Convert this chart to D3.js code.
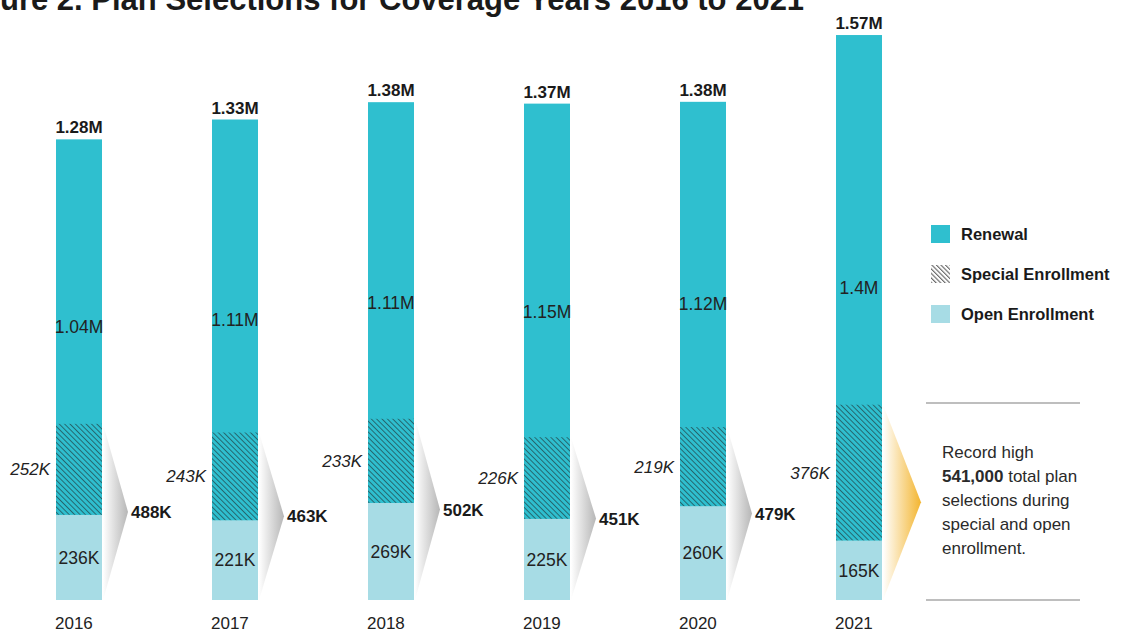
<!DOCTYPE html>
<html>
<head>
<meta charset="utf-8">
<script src="https://cdn.jsdelivr.net/npm/d3@7/dist/d3.min.js"></script>
<style>
  html, body { margin: 0; padding: 0; background: #fff; }
  svg { display: block; }
  text { font-family: "Liberation Sans", Arial, Helvetica, sans-serif; fill: #1a1a1a; }
</style>
</head>
<body>
<script>
// Plan selections by coverage year
const years        = ["2016", "2017", "2018", "2019", "2020", "2021"];
const totals       = [1.28, 1.33, 1.38, 1.37, 1.38, 1.57];   // millions
const renewal      = [1.04, 1.11, 1.11, 1.15, 1.12, 1.4];    // millions
const special      = [252, 243, 233, 226, 219, 376];         // thousands
const openEnroll   = [236, 221, 269, 225, 260, 165];         // thousands
const enrollTotals = [488, 463, 502, 451, 479, 541];         // thousands, special + open
const legendItems  = ["Renewal", "Special Enrollment", "Open Enrollment"];

const W = 1125, H = 633;
const C_RENEW = "#2fbfcf", C_OPEN = "#a7dce5", C_HATCH = "#24646b";

const svg = d3.select("body").append("svg").attr("width", W).attr("height", H);
const defs = svg.append("defs");

// diagonal hatch on teal for special enrollment
const hp = defs.append("pattern").attr("id", "hatch").attr("patternUnits", "userSpaceOnUse")
  .attr("width", 3.8).attr("height", 3.8).attr("patternTransform", "rotate(-45)");
hp.append("rect").attr("width", 3.8).attr("height", 3.8).attr("fill", C_RENEW);
hp.append("line").attr("x1", 0.5).attr("y1", 0).attr("x2", 0.5).attr("y2", 3.8)
  .attr("stroke", C_HATCH).attr("stroke-width", 0.95);

// hatch without fill for the legend swatch
const hl = defs.append("pattern").attr("id", "hatchLegend").attr("patternUnits", "userSpaceOnUse")
  .attr("width", 3.2).attr("height", 3.2).attr("patternTransform", "rotate(-45)");
hl.append("rect").attr("width", 3.2).attr("height", 3.2).attr("fill", "#fff");
hl.append("line").attr("x1", 0.6).attr("y1", 0).attr("x2", 0.6).attr("y2", 3.2)
  .attr("stroke", "#555").attr("stroke-width", 1);

// arrow gradients
const gGrey = defs.append("linearGradient").attr("id", "arrowGrey").attr("x1", "0").attr("x2", "1").attr("y1", "0").attr("y2", "0");
gGrey.append("stop").attr("offset", "0%").attr("stop-color", "#ffffff");
gGrey.append("stop").attr("offset", "100%").attr("stop-color", "#b6b6b6");
const gGold = defs.append("linearGradient").attr("id", "arrowGold").attr("x1", "0").attr("x2", "1").attr("y1", "0").attr("y2", "0");
gGold.append("stop").attr("offset", "0%").attr("stop-color", "#ffffff");
gGold.append("stop").attr("offset", "100%").attr("stop-color", "#f3b530");

// scales
const x = d3.scaleBand().domain(years).range([56, 882]).paddingInner(110 / 156).paddingOuter(0);
const y = d3.scaleLinear().domain([0, 1.6]).range([600, 600 - 1.6 * 361]);
const bw = x.bandwidth();

const rows = years.map((yr, i) => ({
  year: yr, i,
  total: totals[i],
  renewal: renewal[i],
  special: special[i] / 1000,
  open: openEnroll[i] / 1000,
  enroll: enrollTotals[i]
}));

// title (runs past the top-left edge)
const title = svg.append("text")
  .attr("y", 10)
  .style("font-size", "31px").style("font-weight", "bold")
  .text("Figure 2. Plan Selections for Coverage Years 2016 to 2021");
const probe = svg.append("text").style("font-size", "31px").style("font-weight", "bold").text("Fig");
const figW = probe.node().getComputedTextLength();
probe.remove();
title.attr("x", -figW);

const bars = svg.append("g").selectAll("g").data(rows).join("g");

// open enrollment (bottom)
bars.append("rect")
  .attr("x", d => x(d.year)).attr("width", bw)
  .attr("y", d => y(d.open)).attr("height", d => y(0) - y(d.open))
  .attr("fill", C_OPEN);

// renewal (stacked on open enrollment)
bars.append("rect")
  .attr("x", d => x(d.year)).attr("width", bw)
  .attr("y", d => y(d.open + d.renewal)).attr("height", d => y(d.open) - y(d.open + d.renewal))
  .attr("fill", C_RENEW);

// special enrollment overlay (hatched, at the base of renewal)
bars.append("rect")
  .attr("x", d => x(d.year)).attr("width", bw)
  .attr("y", d => y(d.open + d.special)).attr("height", d => y(d.open) - y(d.open + d.special))
  .attr("fill", "url(#hatch)");

// arrows to the right of each bar
bars.append("path")
  .attr("d", d => {
    const x0 = x(d.year) + bw + 1;
    const len = d.i === years.length - 1 ? 38 : 25;
    const top = y(d.open + d.special), bot = y(0), tip = y((d.open + d.special) / 2);
    return `M${x0},${top}L${x0 + len},${tip}L${x0},${bot}Z`;
  })
  .attr("fill", d => d.i === years.length - 1 ? "url(#arrowGold)" : "url(#arrowGrey)");

// combined enrollment label at arrow tip (except the last year, which has a note)
bars.filter(d => d.i < years.length - 1).append("text")
  .attr("x", d => x(d.year) + bw + 29)
  .attr("y", d => y((d.open + d.special) / 2))
  .attr("dy", "0.36em")
  .style("font-size", "17px").style("font-weight", "bold")
  .text(d => d.enroll + "K");

// total label above each bar
bars.append("text")
  .attr("x", d => x(d.year) + bw / 2)
  .attr("y", d => y(d.open + d.renewal) - 6)
  .attr("text-anchor", "middle")
  .style("font-size", "17px").style("font-weight", "bold")
  .text(d => d3.format(".2f")(d.total) + "M");

// renewal label
bars.append("text")
  .attr("x", d => x(d.year) + bw / 2)
  .attr("y", d => y(d.open + d.renewal / 2))
  .attr("dy", "0.36em")
  .attr("text-anchor", "middle")
  .style("font-size", "17.5px").style("fill", "#222")
  .text(d => d.renewal + "M");

// special enrollment label (italic, left of bar)
bars.append("text")
  .attr("x", d => x(d.year) - 6)
  .attr("y", d => y(d.open + d.special / 2))
  .attr("dy", "0.36em")
  .attr("text-anchor", "end")
  .style("font-size", "17px").style("font-style", "italic").style("fill", "#222")
  .text(d => special[d.i] + "K");

// open enrollment label
bars.append("text")
  .attr("x", d => x(d.year) + bw / 2)
  .attr("y", d => y(d.open / 2))
  .attr("dy", "0.36em")
  .attr("text-anchor", "middle")
  .style("font-size", "17.5px").style("fill", "#222")
  .text(d => openEnroll[d.i] + "K");

// year labels
svg.append("g").selectAll("text").data(rows).join("text")
  .attr("x", d => x(d.year) - 1)
  .attr("y", 629)
  .style("font-size", "17px").style("fill", "#222")
  .text(d => d.year);

// legend
const lg = svg.append("g").attr("transform", "translate(931,225)");
const fills = [C_RENEW, "url(#hatchLegend)", C_OPEN];
legendItems.forEach((name, i) => {
  const g = lg.append("g").attr("transform", `translate(0,${i * 40})`);
  g.append("rect").attr("width", 19).attr("height", 18).attr("fill", fills[i]);
  g.append("text").attr("x", 30).attr("y", 9).attr("dy", "0.36em")
    .style("font-size", "16.5px").style("font-weight", "bold")
    .text(name);
});

// note for the last year
const last = rows[rows.length - 1];
const note = svg.append("g");
note.append("line").attr("x1", 926).attr("x2", 1080).attr("y1", 403).attr("y2", 403)
  .attr("stroke", "#a8a8a8").attr("stroke-width", 1.5);
note.append("line").attr("x1", 926).attr("x2", 1080).attr("y1", 600).attr("y2", 600)
  .attr("stroke", "#a8a8a8").attr("stroke-width", 1.5);
const nt = note.append("text").attr("x", 942).attr("y", 458)
  .style("font-size", "17px").style("fill", "#2a2a2a");
nt.append("tspan").attr("x", 942).attr("dy", 0).text("Record high");
const l2 = nt.append("tspan").attr("x", 942).attr("dy", 24);
l2.append("tspan").style("font-weight", "bold").text(d3.format(",")(last.enroll * 1000));
l2.append("tspan").text(" total plan");
nt.append("tspan").attr("x", 942).attr("dy", 24).text("selections during");
nt.append("tspan").attr("x", 942).attr("dy", 24).text("special and open");
nt.append("tspan").attr("x", 942).attr("dy", 24).text("enrollment.");
</script>
</body>
</html>
